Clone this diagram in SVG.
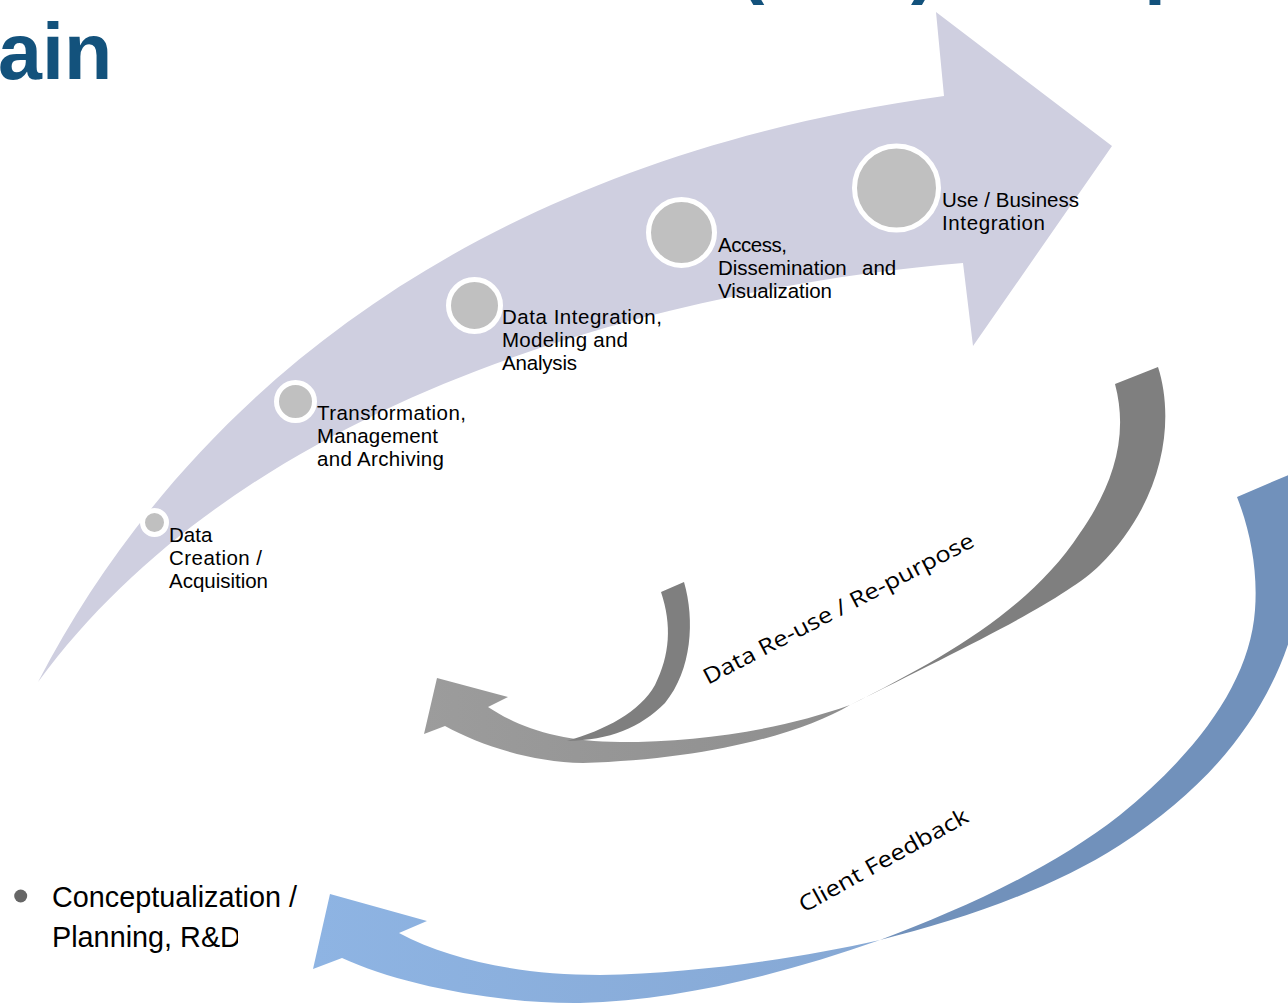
<svg xmlns="http://www.w3.org/2000/svg" width="1288" height="1007" viewBox="0 0 1288 1007">
<defs>
<style>
.lbl{font-family:"Liberation Sans",Arial,sans-serif;font-size:20.5px;fill:#000}
.title{font-family:"Liberation Sans",Arial,sans-serif;font-size:79px;font-weight:bold;fill:#13527C}
.step{fill:#C0C0C0;stroke:#FFFFFF;stroke-width:5}
.curv{font-family:"Open Sans","Noto Sans",sans-serif;font-size:22px;fill:#000}
.bul{font-family:"Liberation Sans",Arial,sans-serif;font-size:28.8px;fill:#000}
</style>
<linearGradient id="gLight" x1="1" y1="0" x2="0" y2="0">
<stop offset="0" stop-color="#8E8E8E"/>
<stop offset="1" stop-color="#9C9C9C"/>
</linearGradient>
<linearGradient id="bLight" x1="1" y1="0" x2="0" y2="0">
<stop offset="0" stop-color="#86A8D4"/>
<stop offset="1" stop-color="#8EB4E3"/>
</linearGradient>
<clipPath id="clipPlan"><rect x="0" y="915" width="238" height="60"/></clipPath>
</defs>
<g id="title">
<text class="title" x="738" y="-12">(</text>
<text class="title" x="911" y="-12">)</text>
<text class="title" x="1144" y="-12">p</text>
<text class="title" x="-2" y="79">ain</text>
</g>
<g id="value-chain-arrow">
<path fill="#CFCFE0" d="M38,682 C190,390 480,160 944,96 L936,12 L1112,146 L973,346 L963,263 C700,285 260,380 38,682 Z"/>
</g>
<g id="connectors">
<g id="reuse-arrow">
<path fill="#7F7F7F" d="M1115,384 L1158,367 C1175,420 1165,500 1100,565 C1065,600 960,650 850,705 C940,660 1030,610 1080,533 C1110,490 1130,440 1115,384 Z"/>
<path fill="url(#gLight)" d="M850,705 C800,735 700,760 583,763 C530,762 480,745 445,726 L424,734 L437,678 L508,697 L488,707 C520,728 560,742 620,742 C700,742 780,730 850,705 Z"/>
<path fill="#7F7F7F" d="M661,592 L684,582 C695,620 692,670 665,703 C640,728 610,740 567,741 C605,730 640,712 655,685 C670,655 672,625 661,592 Z"/>
</g>
<g id="feedback-arrow">
<path fill="#7191BB" d="M1237,497 L1300,470 L1300,600 C1280,700 1220,780 1120,845 C1050,890 960,920 880,940 C960,910 1050,870 1120,815 C1200,750 1250,680 1255,610 C1258,570 1250,530 1237,497 Z"/>
<path fill="url(#bLight)" d="M880,940 C780,975 680,1000 580,1003 C500,1004 400,985 342,958 L313,969 L330,894 L427,921 L399,933 C450,960 520,975 600,975 C700,973 800,958 880,940 Z"/>
</g>
<text class="curv" transform="translate(708,685) rotate(-27.5)" textLength="302" lengthAdjust="spacingAndGlyphs">Data Re-use / Re-purpose</text>
<text class="curv" transform="translate(804,913) rotate(-29)" textLength="190" lengthAdjust="spacingAndGlyphs">Client Feedback</text>
</g>
<g id="step-1">
<circle class="step" cx="154.5" cy="522.5" r="12"/>
<text class="lbl" x="169" y="542">Data</text>
<text class="lbl" x="169" y="565" textLength="93">Creation /</text>
<text class="lbl" x="169" y="588" textLength="99">Acquisition</text>
</g>
<g id="step-2">
<circle class="step" cx="295.5" cy="401.5" r="19"/>
<text class="lbl" x="317" y="420" textLength="149">Transformation,</text>
<text class="lbl" x="317" y="443" textLength="121">Management</text>
<text class="lbl" x="317" y="466" textLength="127">and Archiving</text>
</g>
<g id="step-3">
<circle class="step" cx="474.5" cy="305.5" r="26"/>
<text class="lbl" x="502" y="324" textLength="160">Data Integration,</text>
<text class="lbl" x="502" y="347" textLength="126">Modeling and</text>
<text class="lbl" x="502" y="370" textLength="75">Analysis</text>
</g>
<g id="step-4">
<circle class="step" cx="681.5" cy="232.5" r="33"/>
<text class="lbl" x="718" y="252" textLength="69">Access,</text>
<text class="lbl" x="718" y="275">Dissemination <tspan x="862">and</tspan></text>
<text class="lbl" x="718" y="298" textLength="114">Visualization</text>
</g>
<g id="step-5">
<circle class="step" cx="896.5" cy="188" r="42"/>
<text class="lbl" x="942" y="207" textLength="137">Use / Business</text>
<text class="lbl" x="942" y="230" textLength="103">Integration</text>
</g>
<g id="bullet">
<circle cx="20.7" cy="896" r="6.5" fill="#666666"/>
<text class="bul" x="52" y="907">Conceptualization /</text>
<text class="bul" x="52" y="947" clip-path="url(#clipPlan)">Planning, R&amp;D</text>
</g>
</svg>
